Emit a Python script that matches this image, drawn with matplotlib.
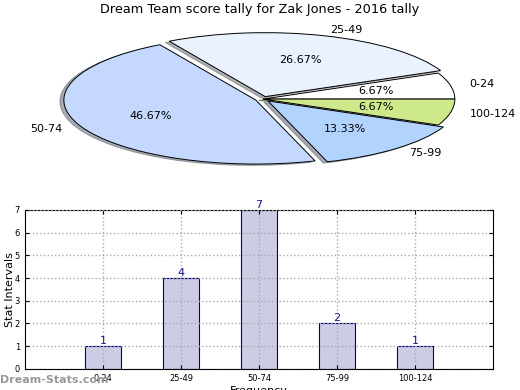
from matplotlib import pyplot as plt

# 数据
intervals = ["0-24", "25-49", "50-74", "75-99", "100-124"]
counts = [1, 4, 7, 2, 1]
pie_colors = ["#FFFFFF", "#EAF1FF", "#C5D8FF", "#B3D3FF", "#CDE98A"]
explode = [0, 0.04, 0.04, 0.04, 0]

fig = plt.figure(figsize=(5.2, 3.9), dpi=100)

# 饼图
ax1 = fig.add_axes([0.044, 0.541, 0.923, 0.41])
wedges, texts, autotexts = ax1.pie(counts, labels=intervals, colors=pie_colors,
                                   explode=explode, autopct="%.2f%%",
                                   shadow={"ox": -0.015, "oy": -0.015, "shade": 0.6},
                                   startangle=0,
                                   wedgeprops={"edgecolor": "black", "linewidth": 0.7},
                                   textprops={"fontsize": 8})
ax1.set_aspect("auto")
ax1.set_xlim(-1.25, 1.25)
ax1.set_ylim(-1.25, 1.25)
fig.text(0.5, 0.975, "Dream Team score tally for Zak Jones - 2016 tally",
         ha="center", va="center", fontsize=9.3)

# 柱状图
ax2 = fig.add_axes([0.048, 0.054, 0.9, 0.408])
x = list(range(len(intervals)))
ax2.bar(x, counts, width=0.46, color="#CCCCE5", edgecolor="#000080", linewidth=0.8)
for i, c in zip(x, counts):
    ax2.text(i, c, str(c), ha="center", va="bottom", fontsize=8, color="#1a1a8c")
ax2.set_xlim(-1, 5)
ax2.set_ylim(0, 7)
ax2.set_xticks(x)
ax2.set_xticklabels(intervals, fontsize=6)
ax2.set_yticks(range(8))
ax2.tick_params(axis="y", labelsize=6)
ax2.tick_params(direction="in", top=True, right=True, length=3)
ax2.grid(True, linestyle=":", color="#aaaaaa", linewidth=1)
ax2.set_axisbelow(False)
ax2.set_ylabel("Stat Intervals", fontsize=8)
ax2.yaxis.set_label_coords(-0.022, 0.5)
ax2.set_xlabel("Frequency", fontsize=8, labelpad=2)

fig.text(0.0, 0.025, "Dream-Stats.com", fontsize=8, color="#999999",
         fontweight="bold", ha="left", va="center")

plt.savefig("out.png")
